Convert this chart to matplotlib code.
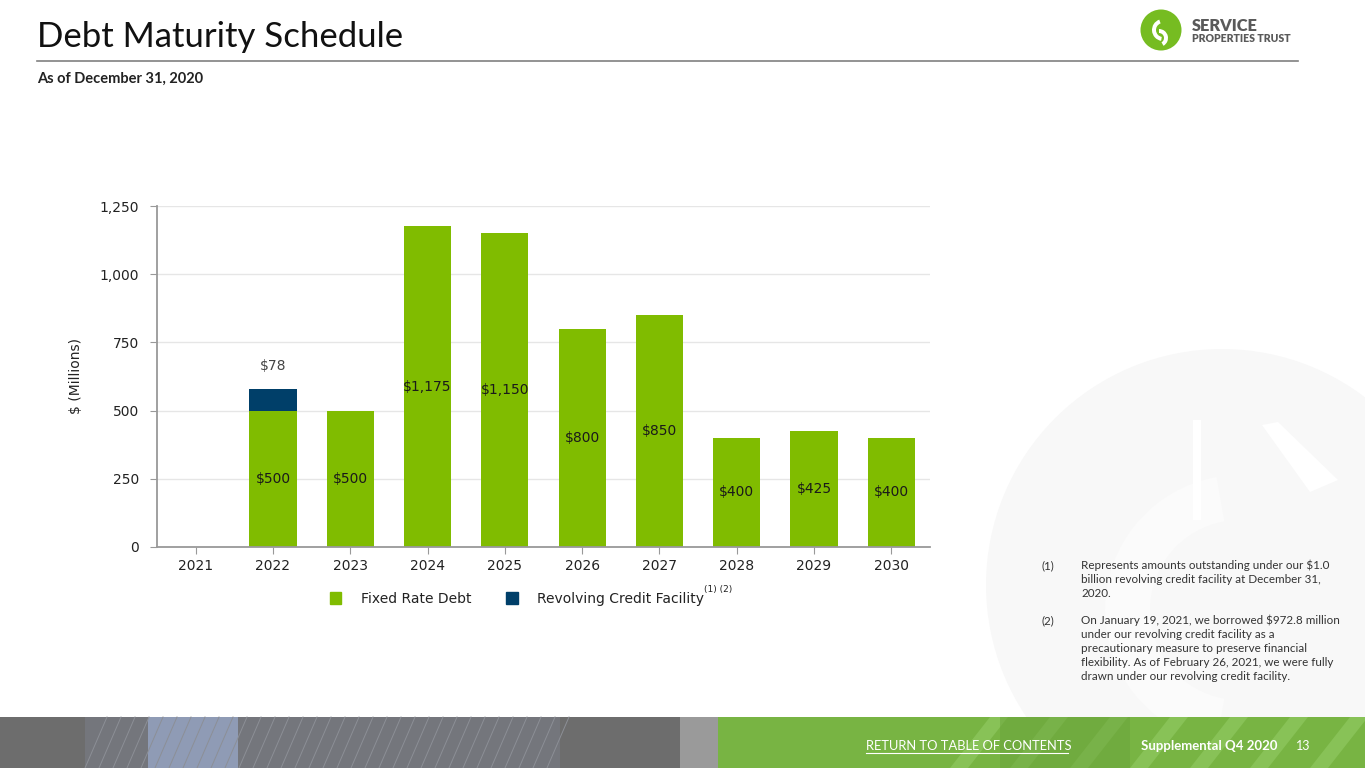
import numpy as np
import matplotlib.pyplot as plt
from matplotlib.patches import Rectangle, Circle, Wedge, Patch, Polygon

years = ['2021', '2022', '2023', '2024', '2025', '2026', '2027', '2028', '2029', '2030']
fixed_rate = [0, 500, 500, 1175, 1150, 800, 850, 400, 425, 400]
revolving = [0, 78, 0, 0, 0, 0, 0, 0, 0, 0]
y_ticks = [0, 250, 500, 750, 1000, 1250]

GREEN = '#80bc00'
BLUE = '#003f69'
W, H = 1365, 768

fig = plt.figure(figsize=(13.65, 7.68), dpi=100)
fig.patch.set_facecolor('white')


def fx(x):
    return x / W


def fy(y):
    return 1 - y / H


# faded logo in the background
bg = fig.add_axes([0, 0, 1, 1], zorder=-1)
bg.set_xlim(0, W)
bg.set_ylim(H, 0)
bg.axis('off')
bg.add_patch(Circle((1222, 585), 236, color='#f8f8f8', lw=0))
bg.add_patch(Wedge((1240, 610), 135, 100, 260, width=45, color='#fbfbfb', lw=0))
bg.add_patch(Rectangle((1193, 420), 8, 100, color='white', lw=0))
bg.add_patch(Polygon([(1262, 425), (1278, 422), (1338, 480), (1310, 492)],
                     closed=True, color='white', lw=0))

# bottom banner (photo strip, roughly)
bg.add_patch(Rectangle((0, 717), 720, 51, color='#6d6d6d', lw=0))
bg.add_patch(Rectangle((85, 717), 475, 51, color='#74767c', lw=0))
bg.add_patch(Rectangle((148, 717), 90, 51, color='#8f9bb5', lw=0))
for xs in range(85, 560, 14):
    bg.plot([xs, xs + 22], [768, 717], color='#8c8f96', lw=0.7)
bg.add_patch(Rectangle((680, 717), 40, 51, color='#9a9a9a', lw=0))
bg.add_patch(Rectangle((718, 717), 647, 51, color='#78b443', lw=0))
for xs in range(950, 1365, 60):
    bg.add_patch(Polygon([(xs, 768), (xs + 18, 768), (xs + 58, 717), (xs + 40, 717)],
                         closed=True, color='#88c257', lw=0))
bg.add_patch(Rectangle((1000, 717), 130, 51, color='#6aa33c', alpha=0.5, lw=0))

# header rule
bg.plot([37, 1298], [61, 61], color='#808080', lw=1.2)

# small logo
bg.add_patch(Circle((1161, 30), 20.5, color='#76bc21', lw=0))
bg.add_patch(Wedge((1163, 30), 11, 100, 250, width=4, color='white', lw=0))
bg.add_patch(Wedge((1159, 38), 9, 270, 60, width=4, color='white', lw=0))

fig.text(fx(37), fy(47), 'Debt Maturity Schedule', fontsize=25, family='Lato',
         color='#111111', va='baseline')
fig.text(fx(37), fy(83), 'As of December 31, 2020', fontsize=10.5, family='Lato',
         weight='bold', color='#222222', va='baseline')
fig.text(fx(1192), fy(31), 'SERVICE', fontsize=11.8, family='Lato', weight='heavy',
         color='#5a5a5a', va='baseline')
fig.text(fx(1192), fy(42.5), 'PROPERTIES TRUST', fontsize=7.6, family='Lato',
         weight='heavy', color='#5a5a5a', va='baseline')

# chart
ax = fig.add_axes([fx(157), fy(547), (930 - 157) / W, (547 - 206) / H])
x = np.arange(len(years))
b1 = ax.bar(x, fixed_rate, width=0.61, color=GREEN, zorder=2)
b2 = ax.bar(x, revolving, width=0.61, bottom=fixed_rate, color=BLUE, zorder=2)

ax.bar_label(b1, labels=[f'${v:,}' if v else '' for v in fixed_rate],
             label_type='center', fontsize=10, color='#1a1a1a')
tops = [f + r for f, r in zip(fixed_rate, revolving)]
for i, r in enumerate(revolving):
    if r:
        ax.annotate(f'${r}', (x[i], tops[i]), xytext=(0, 12), textcoords='offset points',
                    ha='center', va='bottom', fontsize=10, color='#444444')

ax.set_xlim(-0.5, len(years) - 0.5)
ax.set_ylim(0, 1250)
ax.set_xticks(x, years)
ax.set_yticks(y_ticks, [f'{v:,}' for v in y_ticks])
ax.tick_params(axis='both', labelsize=10, labelcolor='#222222', color='#999999', length=5)
ax.tick_params(axis='y', pad=8)
ax.grid(axis='y', color='#e6e6e6', lw=1, zorder=0)
for s in ['top', 'right']:
    ax.spines[s].set_visible(False)
for s in ['left', 'bottom']:
    ax.spines[s].set_color('#999999')
    ax.spines[s].set_linewidth(1.3)
ax.set_ylabel('$ (Millions)', fontsize=10, color='#222222', labelpad=12)
ax.patch.set_alpha(0)

handles = [Patch(color=GREEN), Patch(color=BLUE)]
fig.legend(handles, ['Fixed Rate Debt', 'Revolving Credit Facility'], ncol=2,
           loc='center', bbox_to_anchor=(fx(517), fy(599)), frameon=False,
           fontsize=10, handlelength=0.85, handleheight=0.95, handletextpad=1.4,
           columnspacing=2.5, labelcolor='#222222')
fig.text(fx(704), fy(592), '(1) (2)', fontsize=6.5, color='#222222', va='baseline')

# footnotes
notes = [
    ('(1)', ['Represents amounts outstanding under our $1.0',
             'billion revolving credit facility at December 31,',
             '2020.'], 569),
    ('(2)', ['On January 19, 2021, we borrowed $972.8 million',
             'under our revolving credit facility as a',
             'precautionary measure to preserve financial',
             'flexibility. As of February 26, 2021, we were fully',
             'drawn under our revolving credit facility.'], 624),
]
for num, lines, y0 in notes:
    fig.text(fx(1042), fy(y0), num, fontsize=8.4, family='Lato', color='#333333',
             va='baseline')
    for k, line in enumerate(lines):
        fig.text(fx(1081), fy(y0 + 14 * k), line, fontsize=8.4, family='Lato',
                 color='#333333', va='baseline')

fig.text(fx(866), fy(750), 'RETURN TO TABLE OF CONTENTS', fontsize=9.3,
         family='Lato', color='white', va='baseline')
bg.plot([866, 1068], [752.5, 752.5], color='white', lw=0.8)
fig.text(fx(1141), fy(750), 'Supplemental Q4 2020', fontsize=9.5, family='Lato',
         weight='bold', color='white', va='baseline')
fig.text(fx(1296), fy(750), '13', fontsize=9, family='Lato', color='white',
         va='baseline')

fig.savefig('out.png', dpi=100)
